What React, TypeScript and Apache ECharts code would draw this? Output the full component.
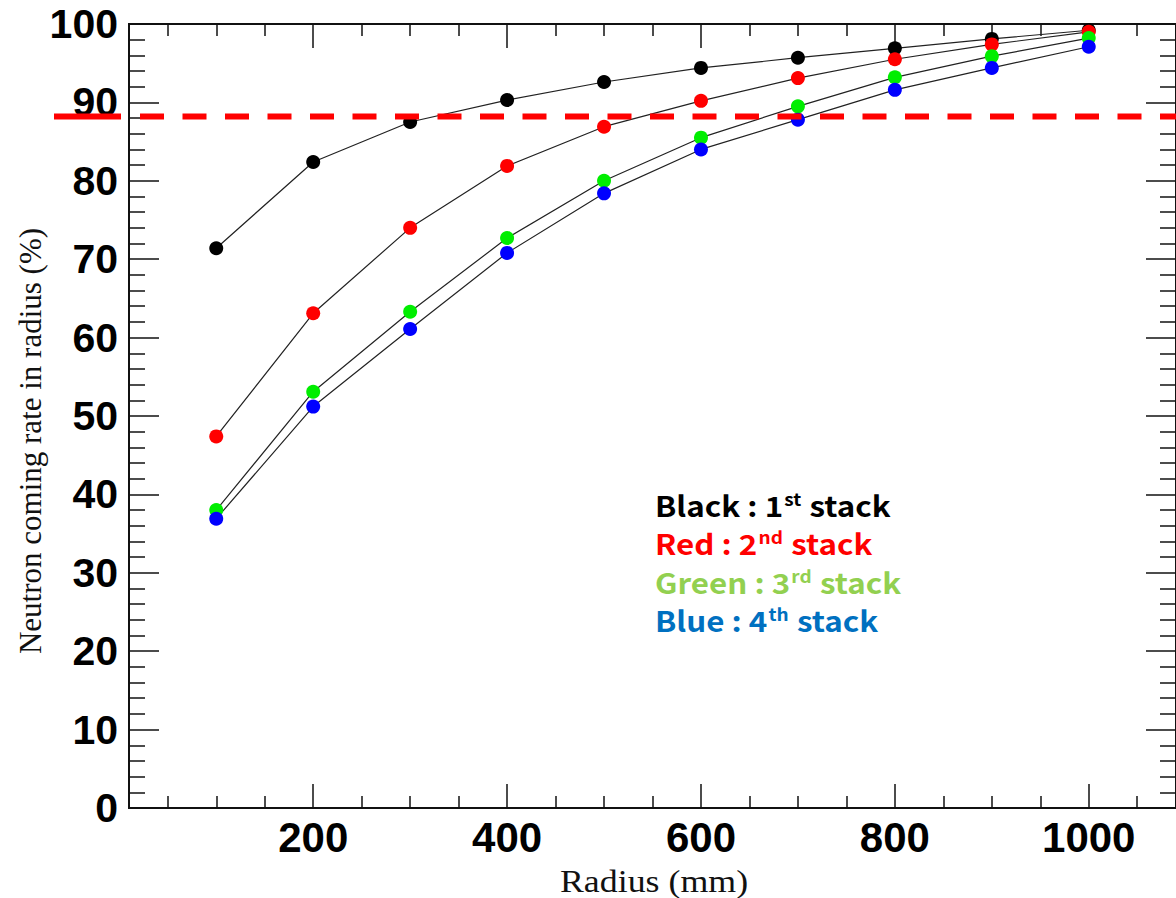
import React, { useEffect, useRef } from "react";
import * as echarts from "echarts";

const radius = [100, 200, 300, 400, 500, 600, 700, 800, 900, 1000];
const blackStack = [71.4, 82.4, 87.5, 90.3, 92.6, 94.4, 95.7, 96.9, 98.1, 99.2];
const redStack = [47.4, 63.1, 74.0, 81.9, 86.9, 90.2, 93.1, 95.5, 97.4, 99.0];
const greenStack = [38.0, 53.1, 63.3, 72.7, 80.0, 85.5, 89.5, 93.2, 95.9, 98.2];
const blueStack = [36.9, 51.2, 61.1, 70.8, 78.4, 84.0, 87.8, 91.6, 94.4, 97.1];
const threshold = 88.2;
const xMajorTicks = [200, 400, 600, 800, 1000];
const xMinorTicks = [50, 100, 150, 250, 300, 350, 450, 500, 550, 650, 700, 750, 850, 900, 950, 1050];

const seriesDefs = [
  { name: "Black : 1st stack", values: blackStack, marker: "#000000" },
  { name: "Red : 2nd stack", values: redStack, marker: "#ff0000" },
  { name: "Green : 3rd stack", values: greenStack, marker: "#00ee00" },
  { name: "Blue : 4th stack", values: blueStack, marker: "#0000ff" },
];

const legendLines = [
  { main: "Black : 1", sup: "st", color: "#000000" },
  { main: "Red : 2", sup: "nd", color: "#ff0000" },
  { main: "Green : 3", sup: "rd", color: "#92d050" },
  { main: "Blue : 4", sup: "th", color: "#0070c0" },
];

export default function App() {
  const ref = useRef<HTMLDivElement>(null);
  useEffect(() => {
    document.body.style.margin = "0";
    if (!ref.current) return;
    const chart = echarts.init(ref.current, undefined, { renderer: "svg" });
    const xMin = 10;
    const xMax = 1090;
    const lineCol = "#111";
    const labelFont = { fontFamily: "Liberation Sans, Arial, sans-serif", fontWeight: "bold" as const, fontSize: 41, color: "#000" };

    const xAxisBase = (pos: "bottom" | "top", ticks: number[], len: number, labels: boolean) => ({
      type: "value" as const,
      position: pos,
      min: xMin,
      max: xMax,
      gridIndex: 0,
      axisLine: { show: true, onZero: false, lineStyle: { color: lineCol, width: 2 } },
      axisTick: { show: true, inside: true, length: len, customValues: ticks, lineStyle: { color: lineCol, width: 1.5 } },
      axisLabel: labels
        ? { show: true, customValues: ticks, margin: 8, formatter: (v: number) => String(v), ...labelFont, fontSize: 42 }
        : { show: false },
      splitLine: { show: false },
    });

    const yAxisBase = (pos: "left" | "right", labels: boolean) => ({
      type: "value" as const,
      position: pos,
      min: 0,
      max: 100,
      interval: 10,
      axisLine: { show: true, lineStyle: { color: lineCol, width: 2 } },
      axisTick: { show: true, inside: true, length: 30, lineStyle: { color: lineCol, width: 1.5 } },
      minorTick: { show: true, splitNumber: 5, length: 16, lineStyle: { color: lineCol, width: 1.5 } },
      axisLabel: labels ? { show: true, margin: 11, formatter: (v: number) => String(v), ...labelFont } : { show: false },
      splitLine: { show: false },
      minorSplitLine: { show: false },
    });

    const legendGraphics = legendLines.map((l, i) => ({
      type: "text",
      x: 655,
      y: 505 + i * 38.5,
      scaleX: 1.12,
      z: 100,
      style: {
        text: `{m|${l.main}}{s|${l.sup}}{m| stack}`,
        verticalAlign: "middle",
        rich: {
          m: { fontFamily: "Noto Sans CJK KR, Noto Sans, sans-serif", fontWeight: "bold", fontSize: 28, fill: l.color, lineHeight: 34 },
          s: { fontFamily: "Noto Sans CJK KR, Noto Sans, sans-serif", fontWeight: "bold", fontSize: 17, fill: l.color, padding: [0, 1, 14, 1], lineHeight: 34 },
        },
      },
    }));

    chart.setOption({
      animation: false,
      backgroundColor: "#ffffff",
      grid: { left: 129, top: 24, width: 1054, height: 784, containLabel: false },
      xAxis: [
        xAxisBase("bottom", xMajorTicks, 24, true),
        xAxisBase("bottom", xMinorTicks, 12, false),
        xAxisBase("top", xMajorTicks, 24, false),
        xAxisBase("top", xMinorTicks, 12, false),
      ],
      yAxis: [yAxisBase("left", true), yAxisBase("right", false)],
      series: seriesDefs.map((s) => ({
        name: s.name,
        type: "line",
        xAxisIndex: 0,
        yAxisIndex: 0,
        data: radius.map((r, i) => [r, s.values[i]]),
        symbol: "circle",
        symbolSize: 14,
        itemStyle: { color: s.marker, borderWidth: 0 },
        lineStyle: { color: "#222", width: 1.2 },
        emphasis: { disabled: true },
      })),
      graphic: legendGraphics,
    });

    const ty = chart.convertToPixel({ yAxisIndex: 0 }, threshold) as number;
    chart.setOption({
      graphic: [
        ...legendGraphics,
        {
          type: "line",
          z: 50,
          shape: { x1: 54, y1: ty, x2: 121, y2: ty },
          style: { stroke: "#ff0000", lineWidth: 6 },
        },
        {
          type: "line",
          z: 50,
          shape: { x1: 140, y1: ty, x2: 1176, y2: ty },
          style: { stroke: "#ff0000", lineWidth: 6, lineDash: [24, 18.5] },
        },
        {
          type: "text",
          x: 654,
          y: 881,
          style: {
            text: "Radius (mm)",
            font: "32px 'Liberation Serif', 'Times New Roman', serif",
            fill: "#111",
            align: "center",
            verticalAlign: "middle",
          },
          scaleX: 1.12,
        },
        {
          type: "text",
          x: 30,
          y: 441,
          rotation: Math.PI / 2,
          style: {
            text: "Neutron coming rate in radius (%)",
            font: "31px 'Liberation Serif', 'Times New Roman', serif",
            fill: "#111",
            align: "center",
            verticalAlign: "middle",
          },
        },
      ],
    }, { replaceMerge: ["graphic"] });

    return () => chart.dispose();
  }, []);
  return <div ref={ref} style={{ width: 1176, height: 898 }} />;
}
